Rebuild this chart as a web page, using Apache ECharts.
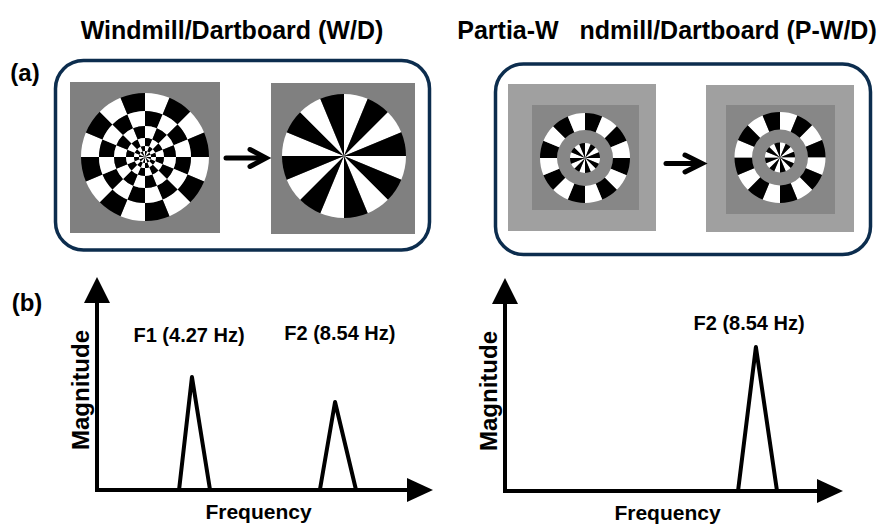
<!DOCTYPE html>
<html>
<head>
<meta charset="utf-8">
<script src="https://cdn.jsdelivr.net/npm/echarts@6/dist/echarts.min.js"></script>
<style>
html,body{margin:0;padding:0;background:#fff;}
#chart{width:885px;height:524px;}
</style>
</head>
<body>
<div id="chart"></div>
<script>
// ---------------- data ----------------
const titles = ['Windmill/Dartboard (W/D)', 'Partia-W   ndmill/Dartboard (P-W/D)'];
const panelLabels = ['(a)', '(b)'];
const axisNames = ['Frequency', 'Magnitude'];
const peakLabels = ['F1 (4.27 Hz)', 'F2 (8.54 Hz)'];
// schematic spectra (axis units 0-100)
const wdF1Peak = [[25.4, 0], [29.4, 56.5], [35, 0]];
const wdF2Peak = [[69, 0], [73.7, 44], [80.2, 0]];
const pwdF2Peak = [[71.7, 0], [77.2, 72], [83.7, 0]];
const wdLabelAt = [[28.5, 77.5], [75.2, 78.5]];
const pwdLabelAt = [[75.1, 84]];
// stimulus sectors: 16 equal sectors, alternating white/black
const sectorWeights = [1, 1, 1, 1, 1, 1, 1, 1, 1, 1, 1, 1, 1, 1, 1, 1];
const checkColors = ['#ffffff', '#000000'];

// ---------------- layout ----------------
const FONT = '"Liberation Sans", Arial, sans-serif';
const dartboardRingRadii = [64, 46, 31, 19, 11, 6, 0];

function sectorData(phase) {
  return sectorWeights.map((v, i) => ({ value: v, itemStyle: { color: checkColors[(i + phase) % 2] } }));
}
function disc(center, r0, r1, phase) {
  return {
    type: 'pie', center: center, radius: [r0, r1], startAngle: 90, clockwise: true,
    data: sectorData(phase), silent: true, animation: false,
    label: { show: false }, labelLine: { show: false }, emphasis: { disabled: true },
    itemStyle: { borderWidth: 0 }, z: 5
  };
}

const series = [];
// W/D: dartboard
for (let k = 0; k < dartboardRingRadii.length - 1; k++) {
  series.push(disc([145, 157], dartboardRingRadii[k + 1], dartboardRingRadii[k], k % 2));
}
// W/D: windmill
series.push(disc([344, 156], 0, 62, 0));
// P-W/D left
series.push(disc([585, 158], 28, 45, 1));
series.push(disc([585, 158], 0, 15, 0));
// P-W/D right
series.push(disc([780, 157.5], 28, 45.5, 0));
series.push(disc([780, 157.5], 0, 15, 0));

function peakLine(data, g) {
  return {
    type: 'line', xAxisIndex: g, yAxisIndex: g, data: data, symbol: 'none', silent: true,
    lineStyle: { color: '#000', width: 4, join: 'round', cap: 'round' }, animation: false, z: 3
  };
}
series.push(peakLine(wdF1Peak, 0));
series.push(peakLine(wdF2Peak, 0));
series.push(peakLine(pwdF2Peak, 1));

function labelSeries(pos, names, g) {
  return {
    type: 'scatter', xAxisIndex: g, yAxisIndex: g, symbolSize: 0, silent: true, animation: false,
    itemStyle: { color: '#000', opacity: 1 },
    data: pos.map((p, i) => ({ value: p, name: names[i] })),
    label: { show: true, position: 'inside', formatter: '{b}', color: '#000', opacity: 1,
      textBorderWidth: 0, textBorderColor: 'transparent', fontSize: 20, fontWeight: 'bold', fontFamily: FONT }
  };
}
series.push(labelSeries(wdLabelAt, peakLabels, 0));
series.push(labelSeries(pwdLabelAt, [peakLabels[1]], 1));

function xAx(g) {
  return {
    gridIndex: g, type: 'value', min: 0, max: 100,
    axisLine: { show: true, onZero: false, symbol: ['none', 'triangle'], symbolSize: [24, 26],
      lineStyle: { color: '#000', width: 4, cap: 'square' } },
    axisTick: { show: false }, axisLabel: { show: false }, splitLine: { show: false },
    name: axisNames[0], nameLocation: 'middle', nameGap: 11,
    nameTextStyle: { color: '#000', fontSize: 21, fontWeight: 'bold', fontFamily: FONT }
  };
}
function yAx(g) {
  return {
    gridIndex: g, type: 'value', min: 0, max: 100,
    axisLine: { show: true, onZero: false, symbol: ['none', 'triangle'], symbolSize: [26, 26],
      lineStyle: { color: '#000', width: 4, cap: 'square' } },
    axisTick: { show: false }, axisLabel: { show: false }, splitLine: { show: false },
    name: axisNames[1], nameLocation: 'middle', nameGap: 5, nameRotate: 90,
    nameTextStyle: { color: '#000', fontSize: 24, fontWeight: 'bold', fontFamily: FONT }
  };
}

function txt(text, x, y, size) {
  return { type: 'text', x: x, y: y, z: 20, silent: true,
    style: { text: text, fill: '#000', font: 'bold ' + size + 'px ' + FONT, align: 'center', verticalAlign: 'middle' } };
}
function rect(x, y, w, h, fill) {
  return { type: 'rect', z: 1, silent: true, shape: { x: x, y: y, width: w, height: h }, style: { fill: fill } };
}
function arrow(x0, x1, y, hx) {
  return [
    { type: 'polyline', z: 2, silent: true, shape: { points: [[x0, y], [x1 - 2, y]] },
      style: { stroke: '#000', lineWidth: 5, lineCap: 'round', fill: null } },
    { type: 'polyline', z: 2, silent: true, shape: { points: [[hx, y - 8.5], [x1, y], [hx, y + 8.5]] },
      style: { stroke: '#000', lineWidth: 5, lineCap: 'round', lineJoin: 'miter', fill: null } }
  ];
}

const graphic = [
  { type: 'rect', z: 0, silent: true, shape: { x: 55.5, y: 60.5, width: 374, height: 189.5, r: 28 },
    style: { fill: '#fff', stroke: '#0c2d4e', lineWidth: 3.5 } },
  { type: 'rect', z: 0, silent: true, shape: { x: 495.5, y: 64, width: 375, height: 190.5, r: 28 },
    style: { fill: '#fff', stroke: '#0c2d4e', lineWidth: 3.5 } },
  rect(70, 82, 150, 151, '#808080'),
  rect(271, 83, 144, 151, '#808080'),
  rect(508, 84, 148, 147, '#a0a0a0'),
  rect(532, 105, 107, 105, '#878787'),
  rect(706, 85, 148, 147, '#a0a0a0'),
  rect(726, 105, 109, 109, '#878787'),
  ...arrow(226, 266, 158, 250),
  ...arrow(666, 702, 163.5, 685),
  txt(titles[0], 232, 30, 25),
  txt(titles[1], 667, 30, 25),
  txt(panelLabels[0], 25, 72, 24),
  txt(panelLabels[1], 27, 302, 24)
];

const chart = echarts.init(document.getElementById('chart'), null, { renderer: 'svg' });
chart.setOption({
  animation: false,
  backgroundColor: '#fff',
  grid: [
    { left: 97, top: 290, width: 323, height: 200, containLabel: false, outerBoundsMode: 'none' },
    { left: 505, top: 291, width: 325, height: 200, containLabel: false, outerBoundsMode: 'none' }
  ],
  xAxis: [xAx(0), xAx(1)],
  yAxis: [yAx(0), yAx(1)],
  series: series,
  graphic: graphic
});
</script>
</body>
</html>
